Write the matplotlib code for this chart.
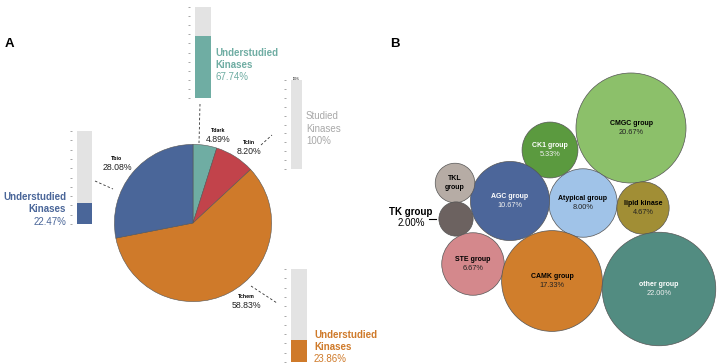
import matplotlib
matplotlib.use("Agg")
import matplotlib.pyplot as plt
from matplotlib.patches import Circle
import numpy as np

plt.rcParams['font.family'] = ['Liberation Sans', 'DejaVu Sans']

W, H = 718, 364

# ---- data ----
# panel A: target development level share of kinases (pie, clockwise from top)
tdl_labels = ['Tdark', 'Tclin', 'Tchem', 'Tbio']
tdl_pct = [4.89, 8.20, 58.83, 28.08]
tdl_colors = ['#6fada3', '#c2434b', '#cf7a2a', '#4a6699']
# share of understudied kinases inside each level (inset bars)
under_pct = [67.74, 0.0, 23.86, 22.47]

# panel B: kinase groups
group_names = ['CMGC group', 'CK1 group', 'Atypical group', 'lipid kinase', 'AGC group',
               'TKL\ngroup', 'TK group', 'STE group', 'CAMK group', 'other group']
group_pct = [20.67, 5.33, 8.00, 4.67, 10.67, 2.67, 2.00, 6.67, 17.33, 22.00]
group_colors = ['#8cc06a', '#5b9a3f', '#a0c3e8', '#a18e35', '#4c669a',
                '#b6aca5', '#6c6260', '#d4888c', '#d07e2c', '#528c81']
group_txt = ['black', 'white', 'black', 'black', 'white',
             'black', 'black', 'black', 'black', 'white']

# bubble layout (pixel centres)
bubble_xy = [(631, 128), (550, 150), (583, 203), (643, 208), (510, 201),
             (455, 183), (456, 219), (473, 264), (552, 281), (659, 289)]

GREY = '#e3e3e3'


def px_axes(x0, y0, x1, y1, **kw):
    return fig.add_axes([x0 / W, 1 - y1 / H, (x1 - x0) / W, (y1 - y0) / H], **kw)


fig = plt.figure(figsize=(W / 100, H / 100), dpi=100)

# pie
cx, cy, r = 193, 223, 79
pax = px_axes(cx - r, cy - r, cx + r, cy + r)
pax.pie(tdl_pct, startangle=90, counterclock=False, colors=tdl_colors,
        wedgeprops=dict(edgecolor='#555555', linewidth=0.4))
pax.set_xlim(-1.005, 1.005)
pax.set_ylim(-1.005, 1.005)
pax.axis('off')


# inset bars
def bar_inset(box, under, color):
    x0, y0, x1, y1 = box
    gap = 5
    ax = px_axes(x0 - gap, y0, x1, y1)
    w = (x1 - x0)
    ax.bar(0, under, width=1, color=color)
    ax.bar(0, 100 - under, bottom=under, width=1, color=GREY)
    ax.set_xlim(-0.5 - gap / w, 0.5)
    ax.set_ylim(0, 100)
    ax.set_yticks(np.arange(0, 101, 10))
    ax.set_yticklabels([])
    ax.set_xticks([])
    ax.tick_params(axis='y', length=1.5, width=0.6, color='#999999', direction='out', pad=0)
    for s in ax.spines.values():
        s.set_visible(False)
    ax.patch.set_alpha(0)
    return ax


bar_boxes = [(195, 7, 211, 98), (291, 80, 302, 169), (291, 269, 307, 362), (77, 131, 92, 224)]
for box, u, c in zip(bar_boxes, under_pct, tdl_colors):
    bar_inset(box, u, c)

# overlay axes in pixel coords
ov = fig.add_axes([0, 0, 1, 1], zorder=5)
ov.set_xlim(0, W)
ov.set_ylim(H, 0)
ov.axis('off')
ov.patch.set_alpha(0)

ov.text(9, 44, 'A', fontsize=9.5, fontweight='bold', ha='center', va='center')
ov.text(395, 44, 'B', fontsize=9.5, fontweight='bold', ha='center', va='center')

# pie labels
pie_lab_xy = [(218, 131), (249, 143), (246, 297), (117, 159)]
for (x, y), lab, p in zip(pie_lab_xy, tdl_labels, tdl_pct):
    ov.text(x, y, lab, fontsize=3.8, fontweight='bold', ha='center', va='center')
    ov.text(x, y + 8.5, f'{p:.2f}%', fontsize=6.3, ha='center', va='center', color='#222222')

# dashed connectors
dash = dict(color='#333333', linewidth=0.6, linestyle=(0, (3, 2.5)))
ov.plot([200, 199], [104, 143], **dash)
ov.plot([261, 272], [145, 135], **dash)
ov.plot([95, 113], [181, 189], **dash)
ov.plot([251, 277], [286, 303], **dash)


# bar annotations: three lines each
def bar_note(x, ys, first, pct_txt, color, ha, bold=True):
    w = 'bold' if bold else 'normal'
    ov.text(x, ys[0], first, fontsize=7, fontweight=w, color=color, ha=ha, va='center')
    ov.text(x, ys[1], 'Kinases', fontsize=7, fontweight=w, color=color, ha=ha, va='center')
    ov.text(x, ys[2], pct_txt, fontsize=7, color=color, ha=ha, va='center')


bar_note(215, (53, 64.5, 77), 'Understudied', f'{under_pct[0]:.2f}%', tdl_colors[0], 'left')
bar_note(306, (116, 129, 141.5), 'Studied', f'{100 - under_pct[1]:.0f}%', '#a8a8a8', 'left', bold=False)
bar_note(314, (335, 347, 358.5), 'Understudied', f'{under_pct[2]:.2f}%', tdl_colors[2], 'left')
bar_note(66, (197, 209.5, 222), 'Understudied', f'{under_pct[3]:.2f}%', tdl_colors[3], 'right')
ov.text(296, 78.5, f'{100 - under_pct[1]:.0f}%', fontsize=1.8, fontweight='bold',
        color='#444444', ha='center', va='center')

# bubbles
k = 12.1
for (x, y), name, p, col, tc in zip(bubble_xy, group_names, group_pct, group_colors, group_txt):
    rad = k * np.sqrt(p)
    ov.add_patch(Circle((x, y), rad, facecolor=col, edgecolor='#555555', linewidth=0.5))
    if name == 'TK group':
        ov.text(411, 212, name, fontsize=7, fontweight='bold', ha='center', va='center')
        ov.text(411, 223, f'{p:.2f}%', fontsize=7, ha='center', va='center')
        ov.plot([429, 436], [219, 219], color='black', linewidth=0.8)
    elif '\n' in name:
        ov.text(x, y, name, fontsize=5, fontweight='bold', color=tc, ha='center', va='center',
                linespacing=1.3)
    else:
        pc = '#f0f0f0' if tc == 'white' else '#222222'
        ov.text(x, y - 4.5, name, fontsize=5, fontweight='bold', color=tc, ha='center', va='center')
        ov.text(x, y + 4.5, f'{p:.2f}%', fontsize=5.3, color=pc, ha='center', va='center')

fig.savefig('out.png', dpi=100)
